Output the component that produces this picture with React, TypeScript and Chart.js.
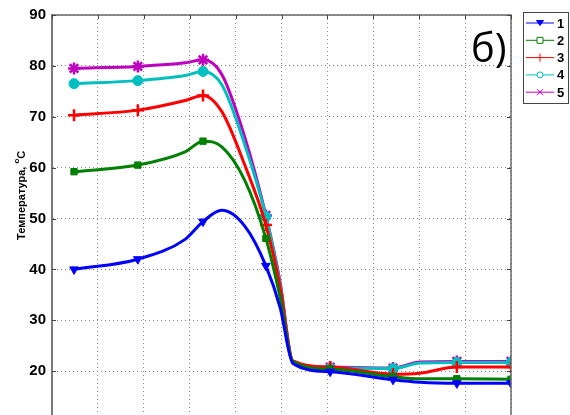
import React, { useEffect, useRef } from 'react';
import { Chart, registerables } from 'chart.js';

Chart.register(...registerables);

// x positions (arbitrary units, grid every 1) of the read points
const xValues = [0.48, 1.87, 2.9, 3.29, 3.7, 4.2, 4.66, 4.97, 5.25, 6.06, 7.43, 8.02, 8.82, 10.0];
// indices of the points that carry a marker
const markerIdx = [0, 1, 3, 6, 9, 10, 12, 13];

const series1 = [40.0, 42.0, 45.9, 49.4, 51.6, 48.5, 40.7, 32.5, 21.5, 19.9, 18.3, 17.8, 17.6, 17.6];
const series2 = [59.2, 60.5, 63.1, 65.2, 64.1, 57.5, 46.1, 34.5, 21.9, 20.4, 18.9, 18.5, 18.5, 18.4];
const series3 = [70.3, 71.3, 73.2, 74.2, 71.0, 60.5, 48.7, 36.5, 22.0, 20.8, 19.4, 19.6, 20.8, 20.8];
const series4 = [76.5, 77.1, 78.1, 78.9, 76.3, 64.5, 50.4, 37.0, 21.8, 20.6, 20.5, 21.6, 21.7, 21.7];
const series5 = [79.5, 79.9, 80.6, 81.2, 78.3, 66.0, 50.6, 37.5, 21.8, 20.8, 20.6, 21.8, 21.9, 21.9];

const seriesNames = ['1', '2', '3', '4', '5'];
const seriesColors = ['#0000ff', '#008000', '#ff0000', '#00bfbf', '#bf00bf'];

const yTicks = [10, 20, 30, 40, 50, 60, 70, 80, 90];
const yTitle = 'Температура, ';
const panelLabel = 'б)';

const FONT = '"Liberation Sans", Arial, sans-serif';

function drawLegendMarker(ctx: CanvasRenderingContext2D, i: number, x: number, y: number, color: string) {
  ctx.strokeStyle = color;
  ctx.lineWidth = 1;
  ctx.beginPath();
  if (i === 0) {
    ctx.moveTo(x - 3.5, y - 2.5);
    ctx.lineTo(x + 3.5, y - 2.5);
    ctx.lineTo(x, y + 2.5);
    ctx.closePath();
    ctx.fillStyle = color;
    ctx.fill();
  } else if (i === 1) {
    ctx.rect(x - 3, y - 3, 6, 6);
    ctx.fillStyle = '#fff';
    ctx.fill();
  } else if (i === 2) {
    ctx.moveTo(x, y - 4);
    ctx.lineTo(x, y + 4);
  } else if (i === 3) {
    ctx.arc(x, y, 3, 0, Math.PI * 2);
    ctx.fillStyle = '#fff';
    ctx.fill();
  } else {
    ctx.moveTo(x - 3, y - 3);
    ctx.lineTo(x + 3, y + 3);
    ctx.moveTo(x + 3, y - 3);
    ctx.lineTo(x - 3, y + 3);
  }
  ctx.stroke();
}

const decor = {
  id: 'decor',
  afterDraw(chart: any) {
    const { ctx, chartArea: a, scales } = chart;
    ctx.save();
    const line = (x1: number, y1: number, x2: number, y2: number) => {
      ctx.beginPath();
      ctx.moveTo(x1, y1);
      ctx.lineTo(x2, y2);
      ctx.stroke();
    };
    // frame: top and right
    ctx.strokeStyle = '#6a6a6a';
    ctx.lineWidth = 1.5;
    ctx.beginPath();
    ctx.moveTo(a.left, a.top);
    ctx.lineTo(a.right, a.top);
    ctx.lineTo(a.right, a.bottom);
    ctx.stroke();
    // inner tick marks
    ctx.strokeStyle = '#444';
    ctx.lineWidth = 1;
    scales.x.ticks.forEach((t: any) => {
      const px = Math.round(scales.x.getPixelForValue(t.value)) + 0.5;
      line(px, a.top, px, a.top + 4);
      line(px, a.bottom, px, a.bottom - 4);
    });
    scales.y.ticks.forEach((t: any) => {
      const py = Math.round(scales.y.getPixelForValue(t.value)) + 0.5;
      line(a.left, py, a.left + 4, py);
      line(a.right, py, a.right - 4, py);
    });

    // y-axis title with superscript
    ctx.save();
    ctx.translate(25, 240);
    ctx.rotate(-Math.PI / 2);
    ctx.fillStyle = '#000';
    ctx.textAlign = 'left';
    ctx.textBaseline = 'alphabetic';
    ctx.font = `bold 11px ${FONT}`;
    ctx.fillText(yTitle, 0, 0);
    let w = ctx.measureText(yTitle).width;
    ctx.font = `bold 8px ${FONT}`;
    ctx.fillText('o', w, -6);
    w += ctx.measureText('o').width;
    ctx.font = `bold 11px ${FONT}`;
    ctx.fillText('C', w, 0);
    ctx.restore();

    // panel label
    ctx.fillStyle = '#000';
    ctx.font = `40px "Open Sans", ${FONT}`;
    ctx.textAlign = 'left';
    ctx.textBaseline = 'alphabetic';
    ctx.fillText(panelLabel, 471, 62);

    // legend box
    const bx = 523.5, by = 12.5, bw = 45, bh = 91;
    ctx.fillStyle = '#fff';
    ctx.fillRect(bx, by, bw, bh);
    ctx.strokeStyle = '#444';
    ctx.lineWidth = 1;
    ctx.strokeRect(bx, by, bw, bh);
    ctx.font = `bold 13px ${FONT}`;
    ctx.textBaseline = 'middle';
    seriesNames.forEach((name, i) => {
      const y = 23 + i * 17.3;
      ctx.strokeStyle = seriesColors[i];
      ctx.lineWidth = 1;
      line(526, y, 554, y);
      drawLegendMarker(ctx, i, 540, y, seriesColors[i]);
      ctx.fillStyle = '#000';
      ctx.fillText(name, 557, y + 1);
    });
    ctx.restore();
  },
};

export default function App() {
  const ref = useRef<HTMLCanvasElement>(null);
  useEffect(() => {
    const canvas = ref.current;
    if (!canvas) return;
    const allSeries = [series1, series2, series3, series4, series5];
    const styles: any[] = ['triangle', 'rect', 'cross', 'circle', 'star'];
    const radii = [5, 4.5, 6, 5, 6];
    const datasets = allSeries.map((s, k) => ({
      label: seriesNames[k],
      data: xValues.map((x, i) => ({ x, y: s[i] })),
      borderColor: seriesColors[k],
      backgroundColor: seriesColors[k],
      borderWidth: 3,
      pointStyle: styles[k],
      pointRotation: k === 0 ? 180 : 0,
      pointRadius: xValues.map((_, i) => (markerIdx.includes(i) ? radii[k] : 0)),
      pointHoverRadius: 0,
      pointBorderWidth: k === 2 || k === 4 ? 2.5 : 1,
      pointBorderColor: seriesColors[k],
      pointBackgroundColor: seriesColors[k],
      cubicInterpolationMode: 'monotone' as const,
      fill: false,
    }));
    const gridOpts = { color: '#8a8a8a', lineWidth: 1, drawTicks: false };
    const chart = new Chart(canvas, {
      type: 'line',
      data: { datasets },
      options: {
        responsive: false,
        animation: false,
        layout: { padding: { left: 0, top: 12, right: 59, bottom: 0 } },
        plugins: { legend: { display: false }, tooltip: { enabled: false } },
        scales: {
          x: {
            type: 'linear',
            min: 0,
            max: 10,
            ticks: { stepSize: 1, color: '#000', font: { family: FONT, size: 15, weight: 'bold' }, padding: 6 },
            grid: gridOpts,
            border: { display: true, color: '#7a7a7a', width: 2, dash: [1, 3] },
            afterFit: (s: any) => { s.height = 38; },
          },
          y: {
            type: 'linear',
            min: yTicks[0],
            max: yTicks[yTicks.length - 1],
            afterBuildTicks: (s: any) => { s.ticks = yTicks.map((v) => ({ value: v })); },
            ticks: { color: '#000', font: { family: FONT, size: 15, weight: 'bold' }, padding: 6 },
            grid: gridOpts,
            border: { display: true, color: '#7a7a7a', width: 2, dash: [1, 3] },
            afterFit: (s: any) => { s.width = 52; },
          },
        },
      },
      plugins: [decor],
    });
    return () => chart.destroy();
  }, []);
  return (
    <div style={{ position: 'fixed', left: 0, top: 0, width: 570, height: 415, overflow: 'hidden', background: '#fff' }}>
      <canvas ref={ref} width={570} height={460} style={{ display: 'block' }} />
    </div>
  );
}
